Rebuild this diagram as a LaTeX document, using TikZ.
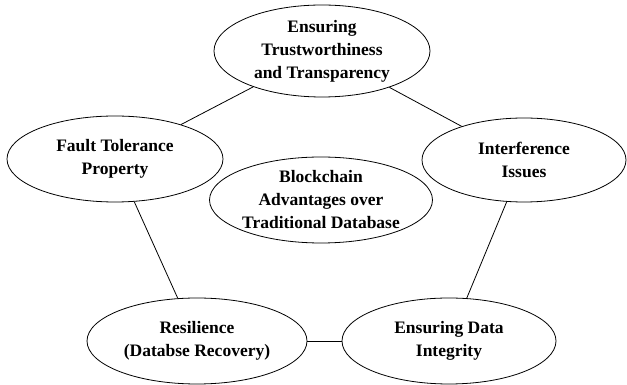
\documentclass[tikz,border=0pt]{standalone}
\usepackage{fontspec}
\setmainfont{Liberation Serif}
\usetikzlibrary{shapes.geometric}
\tikzset{adv/.style={draw, ellipse, line width=0.8pt, inner sep=0pt, align=center, font=\fontsize{17.5}{23}\selectfont\bfseries}}

\begin{document}
\begin{tikzpicture}[x=1pt, y=1pt]
			%%%%% START %%%%%
			\useasboundingbox (0, 0) rectangle (627, 385);
			
			\node[adv, minimum width=216, minimum height=92] (trust) at (322, 334) {Ensuring\\Trustworthiness\\and Transparency};
			\node[adv, minimum width=216, minimum height=86] (fault) at (115, 226) {Fault Tolerance\\Property};
			\node[adv, minimum width=204, minimum height=84] (interf) at (524, 225) {Interference\\Issues};
			\node[adv, minimum width=212, minimum height=86] (core) at (321, 185) {Blockchain\\Advantages over\\Traditional Database};
			\node[adv, minimum width=220, minimum height=86] (resil) at (197, 44) {Resilience\\(Databse Recovery)};
			\node[adv, minimum width=214, minimum height=86] (integ) at (449, 44) {Ensuring Data\\Integrity};
			
			\draw[line width=0.8pt] (trust) -- (fault);
			\draw[line width=0.8pt] (trust) -- (interf);
			\draw[line width=0.8pt] (fault) -- (resil);
			\draw[line width=0.8pt] (interf) -- (integ);
			\draw[line width=0.8pt] (resil) -- (integ);
			
			%%%%% END %%%%%
\end{tikzpicture}
\end{document}
